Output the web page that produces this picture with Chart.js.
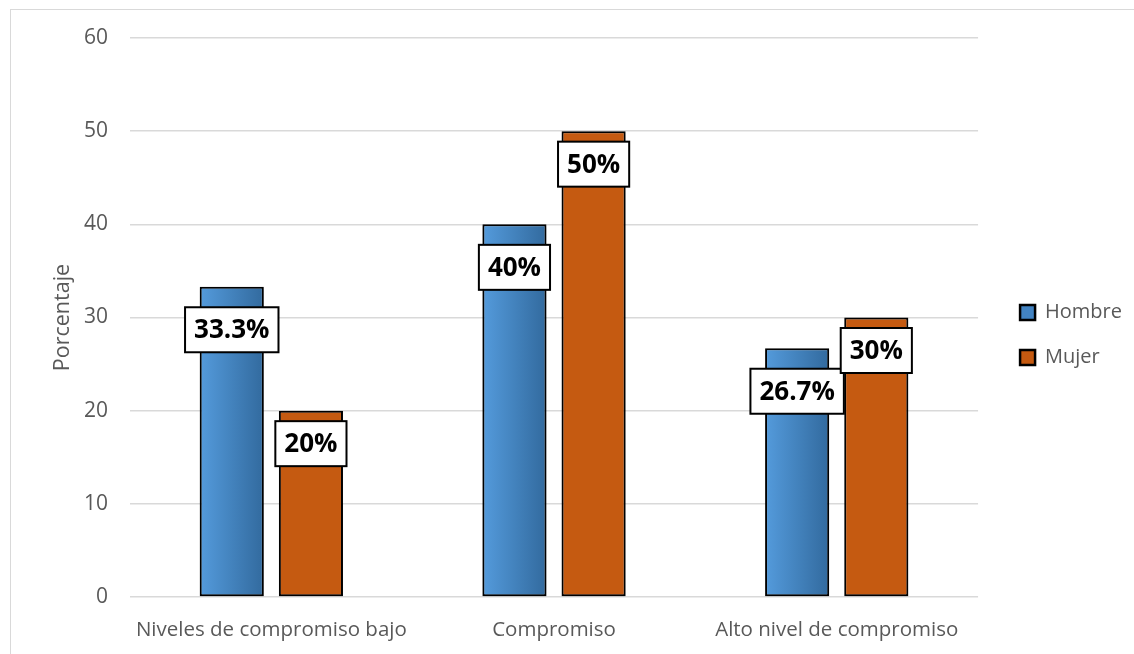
<!DOCTYPE html>
<html>
<head>
<meta charset="utf-8">
<script src="https://cdn.jsdelivr.net/npm/chart.js@4/dist/chart.umd.min.js"></script>
<style>
  html, body { margin: 0; padding: 0; background: #ffffff; overflow: hidden; }
  #frame { position: absolute; left: 10px; top: 9px; width: 1200px; height: 700px;
           border: 1px solid #d9d9d9; box-sizing: border-box; }
  #wrap { position: absolute; left: 0; top: 0; width: 1134px; height: 654px; }
</style>
</head>
<body>
<div id="frame"></div>
<div id="wrap"><canvas id="chart" width="1134" height="654"></canvas></div>
<script>
// Categories and series (percent)
const categories = ['Niveles de compromiso bajo', 'Compromiso', 'Alto nivel de compromiso'];
const seriesNames = ['Hombre', 'Mujer'];
const hombre = [33.3, 40, 26.7];
const mujer = [20, 50, 30];
const yTicks = [0, 10, 20, 30, 40, 50, 60];

const CAT_PCT = 0.56;
const BAR_PCT = 0.81;
const GREY_TEXT = '#595959';
const ORANGE = '#c55a11';
const FONT = '"Open Sans", sans-serif';

// Horizontal blue gradient, computed per bar from the x scale geometry
function blueFill(ctx) {
  const chart = ctx.chart;
  const xs = chart.scales.x;
  if (!chart.chartArea || !xs || ctx.dataIndex === undefined) return '#4a86c0';
  const center = xs.getPixelForValue(ctx.dataIndex);
  const cw = xs.width / categories.length;
  const slot = cw * CAT_PCT / 2;
  const bw = slot * BAR_PCT;
  const bc = center - slot / 2;
  const g = chart.ctx.createLinearGradient(bc - bw / 2, 0, bc + bw / 2, 0);
  g.addColorStop(0, '#549bdc');
  g.addColorStop(1, '#326a9e');
  return g;
}

function fmtPct(v) { return v + '%'; }

// Soft shadow under the bars
const barShadow = {
  id: 'barShadow',
  beforeDatasetsDraw(chart) {
    const c = chart.ctx;
    c.save();
    c.shadowColor = 'rgba(0,0,0,0.28)';
    c.shadowBlur = 3;
    c.shadowOffsetX = 0;
    c.shadowOffsetY = 2;
  },
  afterDatasetsDraw(chart) {
    chart.ctx.restore();
  }
};

// Value labels in white boxes near the top of each bar
const labelOffsets = [43, 33];
const valueBoxes = {
  id: 'valueBoxes',
  afterDatasetsDraw(chart) {
    const c = chart.ctx;
    c.save();
    c.font = 'bold 26px ' + FONT;
    c.textAlign = 'center';
    c.textBaseline = 'middle';
    chart.data.datasets.forEach((ds, di) => {
      const meta = chart.getDatasetMeta(di);
      meta.data.forEach((bar, i) => {
        const txt = fmtPct(ds.data[i]);
        const tw = c.measureText(txt).width;
        const w = tw + 18, h = 45;
        const cx = bar.x, cy = bar.y + labelOffsets[di];
        c.fillStyle = '#ffffff';
        c.fillRect(cx - w / 2, cy - h / 2, w, h);
        c.lineWidth = 2;
        c.strokeStyle = '#000000';
        c.strokeRect(cx - w / 2, cy - h / 2, w, h);
        c.fillStyle = '#000000';
        c.fillText(txt, cx, cy + 1);
      });
    });
    c.restore();
  }
};

// Keep a gap between the plot and the legend items
const legendGap = {
  id: 'legendGap',
  afterLayout(chart) {
    const lg = chart.legend;
    if (!lg) return;
    lg.left += 17; lg.right += 17;
    lg.top -= 11; lg.bottom -= 11;
  }
};

new Chart(document.getElementById('chart'), {
  type: 'bar',
  data: {
    labels: categories,
    datasets: [
      { label: seriesNames[0], data: hombre, backgroundColor: blueFill,
        borderColor: '#000000', borderWidth: 2, borderSkipped: false,
        categoryPercentage: CAT_PCT, barPercentage: BAR_PCT },
      { label: seriesNames[1], data: mujer, backgroundColor: ORANGE,
        borderColor: '#000000', borderWidth: 2, borderSkipped: false,
        categoryPercentage: CAT_PCT, barPercentage: BAR_PCT }
    ]
  },
  options: {
    responsive: false,
    animation: false,
    layout: { padding: { left: 0, top: 38, right: 19, bottom: 0 } },
    plugins: {
      tooltip: { enabled: false },
      legend: {
        position: 'right',
        align: 'center',
        labels: {
          color: GREY_TEXT,
          font: { family: FONT, size: 20 },
          boxWidth: 15, boxHeight: 15, padding: 25,
          generateLabels(chart) {
            return chart.data.datasets.map((ds, i) => ({
              text: ds.label,
              fillStyle: i === 0 ? '#4283c2' : ORANGE,
              strokeStyle: '#000000',
              lineWidth: 2.5,
              datasetIndex: i,
              fontColor: GREY_TEXT
            }));
          }
        }
      }
    },
    scales: {
      x: {
        afterFit(scale) { scale.height = 57; },
        grid: { display: false, drawTicks: false },
        border: { display: false },
        ticks: { color: GREY_TEXT, font: { family: FONT, size: 20.5 }, padding: 21 }
      },
      y: {
        min: 0, max: 60,
        afterFit(scale) { scale.width = 130; },
        afterBuildTicks(scale) { scale.ticks = yTicks.map(v => ({ value: v })); },
        grid: { color: '#d9d9d9', lineWidth: 1.5, drawTicks: false },
        border: { display: false },
        ticks: { color: GREY_TEXT, font: { family: FONT, size: 21 }, padding: 22 },
        title: { display: true, text: 'Porcentaje', color: GREY_TEXT,
                 font: { family: FONT, size: 21.5 }, padding: { top: 50, bottom: 0 } }
      }
    }
  },
  plugins: [barShadow, valueBoxes, legendGap]
});
</script>
</body>
</html>
